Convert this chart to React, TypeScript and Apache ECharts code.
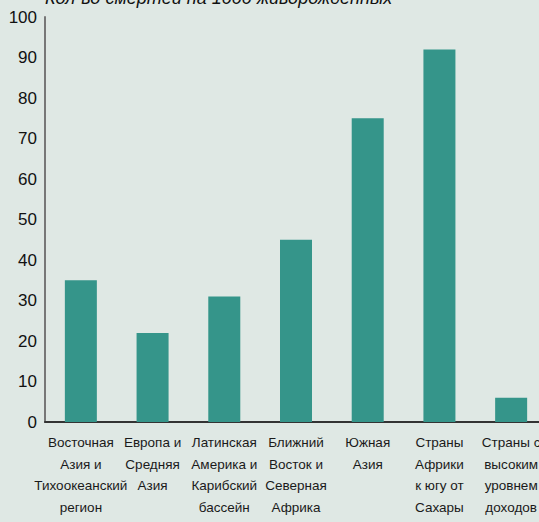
import React, { useEffect, useRef } from "react";
import * as echarts from "echarts";

const categories = [
  "Восточная\nАзия и\nТихоокеанский\nрегион",
  "Европа и\nСредняя\nАзия",
  "Латинская\nАмерика и\nКарибский\nбассейн",
  "Ближний\nВосток и\nСеверная\nАфрика",
  "Южная\nАзия",
  "Страны\nАфрики\nк югу от\nСахары",
  "Страны с\nвысоким\nуровнем\nдоходов",
];
const values = [35, 22, 31, 45, 75, 92, 6];
const titleText = "Кол-во смертей на 1000 живорожденных";

export default function App() {
  const ref = useRef<HTMLDivElement>(null);
  useEffect(() => {
    if (!ref.current) return;
    const chart = echarts.init(ref.current, undefined, { renderer: "svg" });
    chart.setOption({
      animation: false,
      backgroundColor: "#dfe8e4",
      graphic: [
        {
          type: "text",
          left: 45,
          top: -11,
          style: {
            text: titleText,
            fontSize: 18,
            fontStyle: "italic",
            fontFamily: "Liberation Sans",
            fill: "#111",
          },
        },
      ],
      grid: { left: 45, top: 17, bottom: 100, width: 502, containLabel: false },
      xAxis: {
        type: "category",
        data: categories,
        axisLine: { show: true, lineStyle: { color: "#333", width: 2 } },
        axisTick: { show: false },
        axisLabel: {
          interval: 0,
          fontSize: 13.5,
          lineHeight: 21.5,
          margin: 10,
          color: "#1a1a1a",
          fontFamily: "Liberation Sans",
          verticalAlign: "top",
        },
      },
      yAxis: {
        type: "value",
        min: 0,
        max: 100,
        interval: 10,
        axisLine: { show: true, lineStyle: { color: "#777", width: 2 } },
        axisTick: { show: false },
        splitLine: { show: false },
        axisLabel: { fontSize: 17, color: "#111", margin: 8, fontFamily: "Liberation Sans" },
      },
      series: [
        {
          type: "bar",
          data: values,
          barWidth: 32,
          itemStyle: { color: "#35958a" },
        },
      ],
    });
    return () => chart.dispose();
  }, []);
  return (
    <div
      ref={ref}
      style={{ position: "fixed", left: 0, top: 0, width: 580, height: 522 }}
    />
  );
}
